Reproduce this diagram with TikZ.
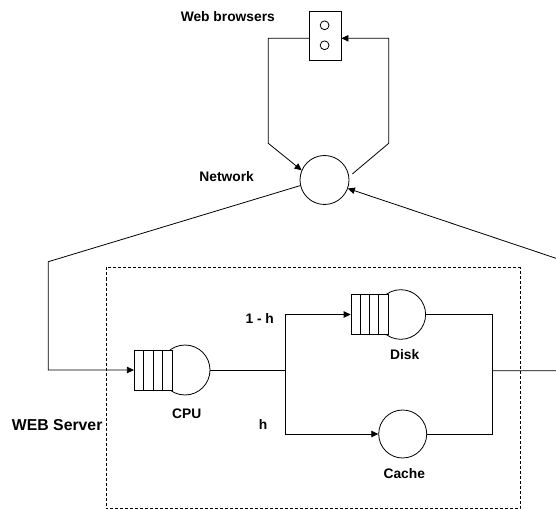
\documentclass[tikz,border=0pt]{standalone}
\usepackage{fontspec}
\setmainfont{Liberation Sans}
\usetikzlibrary{arrows.meta}
\begin{document}
\begin{tikzpicture}[x=1pt,y=-1pt,
  wire/.style={draw=black, line width=0.8pt},
  tip/.style={-{Triangle[length=7pt,width=6.5pt]}},
  srv/.style={draw, circle, inner sep=0pt, line width=0.8pt, fill=white},
  qbox/.style={draw, rectangle, inner sep=0pt, line width=0.8pt, fill=white},
  lbl/.style={inner sep=0pt, anchor=base, font=\fontsize{13.8}{16}\selectfont\bfseries},
  dbox/.style={draw, line width=0.8pt, dash pattern=on 3pt off 2pt}]
\useasboundingbox (0,0) rectangle (556,510);

% dashed web server boundary
\draw[dbox] (106,267.5) rectangle (520,508.5);

% browsers
\node[qbox, minimum width=31.7pt, minimum height=49.7pt] (brw) at (325.2,35.9) {};
\node[srv, minimum size=8.8pt] (b1) at (324.6,25.3) {};
\node[srv, minimum size=8.8pt] (b2) at (324.6,45.3) {};

% network
\node[srv, minimum size=49pt] (net) at (324.5,180) {};

% CPU
\node[srv, minimum size=50pt] (cpu) at (185,370) {};
\node[qbox, minimum width=38pt, minimum height=40pt] (cpuq) at (153.3,370) {};
\foreach \i in {1,2,3}
  \draw[line width=0.8pt] ([xshift=\i*9.5pt]cpuq.north west) -- ([xshift=\i*9.5pt]cpuq.south west);

% Disk
\node[srv, minimum size=49.6pt] (disk) at (400.8,314.5) {};
\node[qbox, minimum width=37.3pt, minimum height=39.6pt] (diskq) at (369.7,314.5) {};
\foreach \i in {1,2,3}
  \draw[line width=0.8pt] ([xshift=\i*9.325pt]diskq.north west) -- ([xshift=\i*9.325pt]diskq.south west);

% Cache
\node[srv, minimum size=48pt] (cache) at (402.7,434) {};

% coordinates
\coordinate (bl1) at (268.3,38.3);
\coordinate (bl2) at (268.3,143.3);
\coordinate (br1) at (388.7,38.3);
\coordinate (br2) at (388.7,143.3);
\coordinate (br3) at (352.3,174);
\coordinate (l1) at (48.3,261.7);
\coordinate (l2) at (48.3,370);
\coordinate (j1) at (285.7,370);
\coordinate (j2) at (492.3,370.7);
\coordinate (r1) at (562,370.7);
\coordinate (r2) at (562,260.3);

% connectors
\draw[wire,tip] (brw.west |- bl1) -- (bl1) -- (bl2) -- (net.157);
\draw[wire,tip] (br3) -- (br2) -- (br1) -- (brw.east |- br1);
\draw[wire,tip] (net.193) -- (l1) -- (l2) -- (cpuq.west |- l2);
\draw[wire] (cpu.east) -- (j1);
\draw[wire,tip] (j1) |- (diskq.west);
\draw[wire,tip] (j1) |- (cache.west);
\draw[wire] (disk.east) -| (j2);
\draw[wire] (cache.east) -| (j2);
\draw[wire,tip] (j2) -- (r1) -- (r2) -- (net.-20);

% labels
\node[lbl] (tbrw) at (227.8,21.7) {Web browsers};
\node[lbl] (tnet) at (226.7,181.7) {Network};
\node[lbl] (tcpu) at (186.7,418.3) {CPU};
\node[lbl, font=\fontsize{15.8}{18}\selectfont\bfseries] (tweb) at (57.2,430) {WEB Server};
\node[lbl] (t1h) at (259.7,323.3) {1 - h};
\node[lbl] (th) at (263,429.3) {h};
\node[lbl] (tdisk) at (404.7,359.3) {Disk};
\node[lbl] (tcache) at (404.3,478.3) {Cache};
\end{tikzpicture}
\end{document}
